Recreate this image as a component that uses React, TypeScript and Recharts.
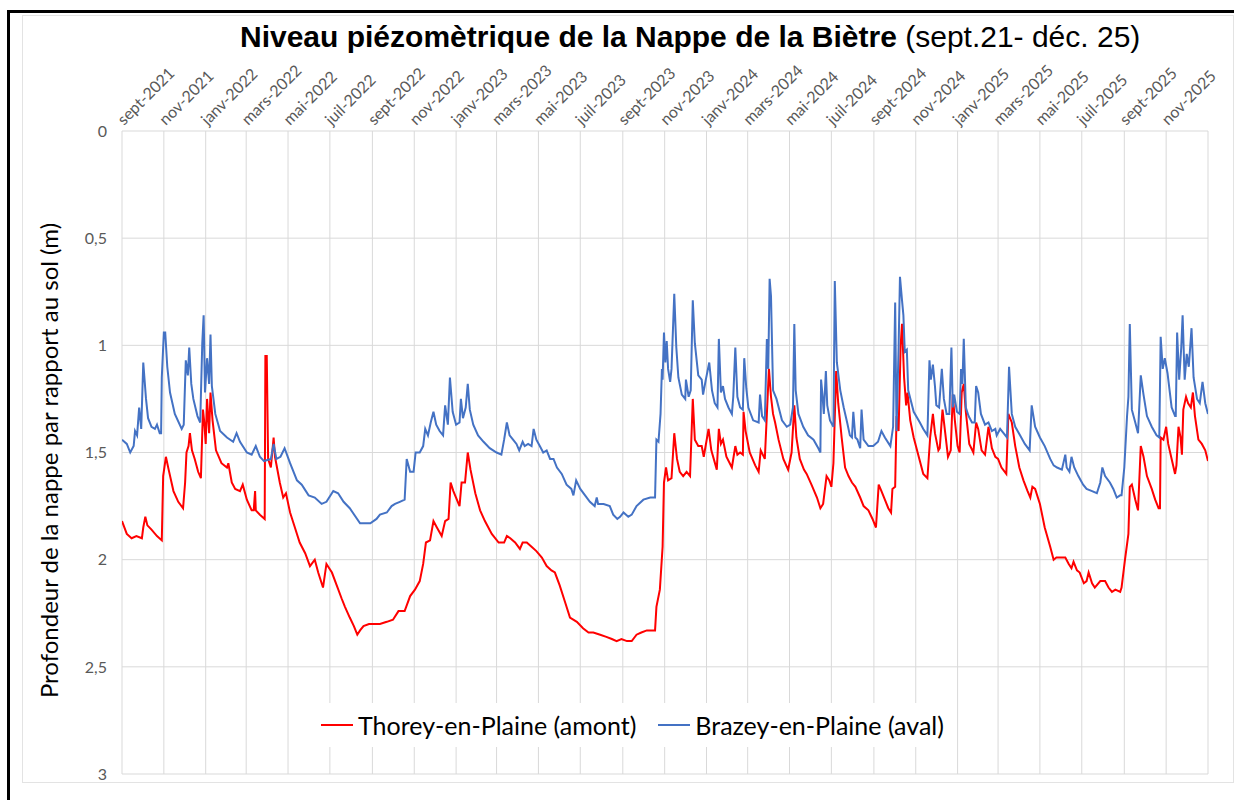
import { LineChart, Line, XAxis, YAxis, CartesianGrid, Legend } from "recharts";

const DAY = 86400000;
const START = Date.UTC(2021, 8, 1);
const END = Date.UTC(2026, 0, 1);

const monthLabels = [
  "sept-2021", "nov-2021", "janv-2022", "mars-2022", "mai-2022", "juil-2022",
  "sept-2022", "nov-2022", "janv-2023", "mars-2023", "mai-2023", "juil-2023",
  "sept-2023", "nov-2023", "janv-2024", "mars-2024", "mai-2024", "juil-2024",
  "sept-2024", "nov-2024", "janv-2025", "mars-2025", "mai-2025", "juil-2025",
  "sept-2025", "nov-2025",
];

const depthTicks = [0, 0.5, 1, 1.5, 2, 2.5, 3];

// [days since 1 sept. 2021, depth below ground (m)]
const thorey: [number, number][] = [
  [0, 1.82], [7, 1.88], [14, 1.9], [21, 1.89], [29, 1.9], [31, 1.85], [34, 1.8], [37, 1.84],
  [43, 1.86], [51, 1.89], [58, 1.91], [60, 1.61], [64, 1.52], [68, 1.58], [75, 1.68], [82, 1.73],
  [89, 1.76], [92, 1.64], [94, 1.5], [97, 1.47], [99, 1.41], [102, 1.49], [106, 1.53], [111, 1.59],
  [115, 1.62], [118, 1.3], [120, 1.36], [122, 1.46], [124, 1.25], [127, 1.41], [129, 1.22], [132, 1.35],
  [137, 1.49], [145, 1.55], [153, 1.57], [155, 1.55], [160, 1.64], [165, 1.67], [172, 1.68], [176, 1.65],
  [182, 1.72], [189, 1.77], [192, 1.77], [194, 1.68], [195, 1.77], [201, 1.79], [208, 1.81], [209, 1.05],
  [211, 1.05], [213, 1.53], [217, 1.57], [221, 1.43], [223, 1.52], [230, 1.64], [235, 1.71], [239, 1.69],
  [245, 1.78], [252, 1.85], [259, 1.92], [267, 1.97], [274, 2.03], [281, 2.0], [286, 2.06], [293, 2.13],
  [298, 2.02], [306, 2.06], [313, 2.12], [320, 2.18], [325, 2.22], [332, 2.27], [338, 2.31], [343, 2.35],
  [347, 2.33], [352, 2.31], [360, 2.3], [368, 2.3], [376, 2.3], [386, 2.29], [395, 2.28], [403, 2.24],
  [412, 2.24], [420, 2.17], [427, 2.14], [434, 2.1], [439, 2.02], [443, 1.92], [449, 1.91], [454, 1.82],
  [459, 1.85], [466, 1.89], [471, 1.82], [476, 1.81], [479, 1.64], [483, 1.68], [492, 1.75], [495, 1.64],
  [500, 1.64], [504, 1.5], [508, 1.58], [515, 1.69], [522, 1.77], [529, 1.82], [539, 1.88], [549, 1.92],
  [557, 1.92], [561, 1.89], [566, 1.9], [573, 1.92], [580, 1.95], [584, 1.92], [590, 1.92], [597, 1.94],
  [604, 1.96], [612, 1.99], [619, 2.03], [626, 2.05], [631, 2.06], [638, 2.12], [646, 2.2], [653, 2.27],
  [663, 2.29], [672, 2.32], [680, 2.34], [687, 2.34], [697, 2.35], [706, 2.36], [714, 2.37], [721, 2.38],
  [728, 2.37], [736, 2.38], [743, 2.38], [750, 2.35], [757, 2.34], [765, 2.33], [770, 2.33], [777, 2.33],
  [779, 2.22], [784, 2.14], [788, 1.94], [790, 1.64], [793, 1.57], [796, 1.63], [801, 1.62], [805, 1.41],
  [809, 1.53], [813, 1.59], [818, 1.61], [823, 1.59], [828, 1.61], [832, 1.25], [835, 1.44], [840, 1.47],
  [845, 1.47], [848, 1.52], [855, 1.39], [859, 1.49], [867, 1.58], [870, 1.39], [873, 1.46], [876, 1.44],
  [881, 1.52], [889, 1.57], [894, 1.47], [897, 1.51], [901, 1.5], [905, 1.51], [906, 1.31], [909, 1.4],
  [915, 1.5], [923, 1.56], [928, 1.59], [931, 1.49], [937, 1.53], [940, 1.32], [943, 1.11], [946, 1.24],
  [949, 1.32], [952, 1.36], [957, 1.44], [964, 1.53], [971, 1.58], [976, 1.5], [980, 1.28], [983, 1.43],
  [988, 1.53], [994, 1.58], [998, 1.6], [1005, 1.65], [1013, 1.71], [1018, 1.76], [1022, 1.74], [1027, 1.61],
  [1031, 1.63], [1034, 1.66], [1037, 1.55], [1041, 1.12], [1044, 1.27], [1049, 1.43], [1054, 1.57], [1059, 1.61],
  [1064, 1.64], [1069, 1.66], [1076, 1.71], [1081, 1.75], [1088, 1.77], [1094, 1.81], [1099, 1.85], [1103, 1.65],
  [1107, 1.68], [1112, 1.72], [1117, 1.76], [1121, 1.78], [1123, 1.67], [1127, 1.66], [1129, 1.33], [1132, 1.4],
  [1135, 1.0], [1137, 0.9], [1140, 1.15], [1143, 1.28], [1145, 1.22], [1149, 1.35], [1154, 1.43], [1163, 1.54],
  [1168, 1.6], [1174, 1.62], [1178, 1.43], [1182, 1.32], [1185, 1.41], [1190, 1.49], [1192, 1.48], [1196, 1.3],
  [1200, 1.41], [1204, 1.52], [1208, 1.49], [1211, 1.23], [1214, 1.35], [1218, 1.47], [1221, 1.5], [1224, 1.22],
  [1227, 1.18], [1230, 1.31], [1235, 1.46], [1241, 1.5], [1245, 1.36], [1248, 1.39], [1253, 1.49], [1258, 1.51],
  [1263, 1.38], [1268, 1.48], [1273, 1.52], [1277, 1.53], [1282, 1.57], [1289, 1.6], [1292, 1.32], [1297, 1.36],
  [1302, 1.47], [1308, 1.57], [1314, 1.63], [1320, 1.68], [1324, 1.71], [1327, 1.66], [1331, 1.67], [1338, 1.74],
  [1345, 1.85], [1353, 1.94], [1358, 2.0], [1362, 1.99], [1367, 1.99], [1375, 1.99], [1380, 2.02], [1384, 2.04],
  [1387, 2.01], [1392, 2.05], [1396, 2.06], [1402, 2.11], [1406, 2.1], [1409, 2.06], [1414, 2.11], [1418, 2.13],
  [1426, 2.1], [1433, 2.1], [1438, 2.13], [1443, 2.15], [1448, 2.14], [1455, 2.15], [1457, 2.13], [1462, 2.0],
  [1467, 1.88], [1469, 1.66], [1472, 1.65], [1477, 1.72], [1481, 1.77], [1485, 1.47], [1489, 1.52], [1494, 1.61],
  [1501, 1.67], [1506, 1.72], [1511, 1.76], [1513, 1.76], [1514, 1.43], [1518, 1.44], [1522, 1.38], [1525, 1.46],
  [1530, 1.53], [1535, 1.6], [1537, 1.56], [1540, 1.38], [1543, 1.43], [1545, 1.51], [1547, 1.3], [1551, 1.24],
  [1554, 1.27], [1558, 1.29], [1561, 1.22], [1564, 1.33], [1569, 1.44], [1574, 1.46], [1579, 1.49], [1583, 1.54],
];

const brazey: [number, number][] = [
  [0, 1.44], [7, 1.46], [12, 1.5], [17, 1.47], [19, 1.4], [22, 1.42], [25, 1.29], [28, 1.39],
  [31, 1.08], [35, 1.25], [38, 1.34], [43, 1.38], [48, 1.39], [51, 1.37], [55, 1.41], [57, 1.41],
  [58, 1.15], [61, 0.94], [63, 0.94], [66, 1.1], [70, 1.22], [77, 1.32], [87, 1.39], [90, 1.37],
  [93, 1.07], [96, 1.14], [98, 1.01], [101, 1.18], [104, 1.25], [110, 1.33], [114, 1.36], [117, 0.99],
  [119, 0.86], [121, 1.22], [124, 1.06], [127, 1.18], [129, 0.95], [131, 1.19], [136, 1.32], [143, 1.4],
  [153, 1.43], [162, 1.45], [167, 1.41], [172, 1.45], [182, 1.5], [189, 1.51], [195, 1.47], [201, 1.52],
  [207, 1.54], [217, 1.53], [221, 1.46], [225, 1.53], [231, 1.52], [237, 1.48], [245, 1.55], [255, 1.63],
  [262, 1.65], [272, 1.7], [281, 1.71], [291, 1.74], [298, 1.73], [308, 1.68], [315, 1.69], [323, 1.73],
  [332, 1.76], [347, 1.83], [362, 1.83], [371, 1.81], [376, 1.79], [386, 1.78], [393, 1.75], [398, 1.74],
  [405, 1.73], [412, 1.72], [415, 1.53], [420, 1.59], [425, 1.59], [428, 1.5], [434, 1.5], [439, 1.47],
  [442, 1.39], [446, 1.42], [450, 1.36], [454, 1.31], [458, 1.37], [463, 1.4], [468, 1.42], [471, 1.28],
  [475, 1.37], [478, 1.15], [482, 1.31], [487, 1.37], [492, 1.36], [494, 1.25], [497, 1.34], [501, 1.29],
  [504, 1.18], [507, 1.3], [512, 1.37], [519, 1.42], [527, 1.45], [536, 1.48], [546, 1.5], [553, 1.51],
  [557, 1.44], [561, 1.36], [565, 1.42], [570, 1.44], [575, 1.46], [579, 1.49], [584, 1.45], [587, 1.47],
  [592, 1.46], [597, 1.47], [600, 1.39], [604, 1.44], [609, 1.47], [614, 1.5], [619, 1.49], [624, 1.53],
  [629, 1.53], [634, 1.57], [641, 1.6], [648, 1.65], [655, 1.67], [658, 1.7], [662, 1.63], [668, 1.67],
  [675, 1.7], [682, 1.73], [689, 1.75], [692, 1.71], [694, 1.74], [702, 1.74], [711, 1.75], [716, 1.79],
  [722, 1.81], [726, 1.8], [731, 1.78], [738, 1.8], [743, 1.79], [750, 1.75], [760, 1.72], [770, 1.71],
  [777, 1.71], [779, 1.44], [782, 1.45], [785, 1.32], [787, 1.11], [788, 1.16], [790, 0.94], [792, 1.08],
  [794, 0.98], [796, 1.11], [799, 1.17], [801, 1.11], [805, 0.76], [808, 1.01], [811, 1.15], [816, 1.23],
  [821, 1.25], [822, 1.16], [826, 1.24], [829, 1.21], [832, 0.79], [835, 0.99], [840, 1.14], [845, 1.16],
  [847, 1.23], [851, 1.16], [856, 1.08], [860, 1.21], [864, 1.27], [868, 1.29], [870, 0.97], [873, 1.22],
  [876, 1.19], [879, 1.25], [884, 1.29], [889, 1.32], [891, 1.24], [894, 1.01], [897, 1.24], [901, 1.29],
  [905, 1.3], [907, 1.06], [910, 1.2], [913, 1.29], [920, 1.35], [928, 1.36], [930, 1.23], [933, 1.33],
  [937, 1.35], [940, 0.97], [942, 1.11], [944, 0.69], [946, 0.77], [949, 1.21], [954, 1.25], [962, 1.35],
  [969, 1.38], [974, 1.37], [978, 1.29], [980, 0.9], [982, 1.21], [986, 1.32], [993, 1.38], [1000, 1.42],
  [1008, 1.44], [1015, 1.48], [1018, 1.5], [1019, 1.16], [1021, 1.23], [1023, 1.32], [1026, 1.12], [1028, 1.28],
  [1032, 1.35], [1037, 1.38], [1039, 0.7], [1042, 1.08], [1047, 1.21], [1052, 1.29], [1057, 1.36], [1061, 1.42],
  [1064, 1.43], [1066, 1.31], [1069, 1.43], [1072, 1.44], [1076, 1.48], [1078, 1.3], [1081, 1.44], [1088, 1.47],
  [1095, 1.47], [1102, 1.45], [1107, 1.4], [1112, 1.43], [1120, 1.47], [1124, 1.38], [1127, 0.8], [1129, 1.4],
  [1132, 1.01], [1134, 0.68], [1137, 0.79], [1139, 0.86], [1141, 1.03], [1144, 1.02], [1146, 1.21], [1154, 1.31],
  [1163, 1.36], [1168, 1.39], [1174, 1.42], [1177, 1.07], [1179, 1.16], [1182, 1.09], [1185, 1.19], [1187, 1.28],
  [1191, 1.29], [1195, 1.11], [1198, 1.25], [1202, 1.32], [1206, 1.32], [1209, 1.01], [1211, 1.29], [1213, 1.23],
  [1217, 1.31], [1221, 1.32], [1223, 1.11], [1225, 1.18], [1227, 0.97], [1230, 1.29], [1234, 1.33], [1239, 1.36],
  [1243, 1.36], [1245, 1.19], [1248, 1.22], [1252, 1.32], [1258, 1.37], [1263, 1.36], [1268, 1.4], [1273, 1.39],
  [1275, 1.42], [1280, 1.39], [1285, 1.41], [1290, 1.43], [1293, 1.1], [1297, 1.32], [1302, 1.38], [1309, 1.42],
  [1316, 1.46], [1323, 1.49], [1326, 1.28], [1331, 1.38], [1338, 1.43], [1345, 1.47], [1353, 1.53], [1358, 1.56],
  [1363, 1.57], [1370, 1.58], [1375, 1.51], [1377, 1.57], [1381, 1.59], [1384, 1.52], [1388, 1.57], [1394, 1.61],
  [1401, 1.65], [1406, 1.67], [1414, 1.68], [1421, 1.69], [1426, 1.64], [1429, 1.57], [1433, 1.61], [1440, 1.64],
  [1445, 1.67], [1450, 1.71], [1455, 1.7], [1457, 1.7], [1461, 1.57], [1465, 1.33], [1467, 1.24], [1469, 0.9],
  [1472, 1.3], [1477, 1.36], [1481, 1.41], [1485, 1.14], [1489, 1.23], [1494, 1.33], [1501, 1.38], [1508, 1.42],
  [1512, 1.43], [1514, 0.96], [1517, 1.11], [1520, 1.06], [1524, 1.13], [1530, 1.29], [1535, 1.33], [1536, 1.33],
  [1538, 0.94], [1541, 1.16], [1544, 1.01], [1546, 0.86], [1549, 1.16], [1552, 1.04], [1555, 1.1], [1557, 1.01],
  [1559, 0.92], [1562, 1.15], [1567, 1.25], [1571, 1.27], [1575, 1.17], [1579, 1.27], [1583, 1.32],
];

const toRows = (pts: [number, number][]) =>
  pts.map(([d, v]) => ({ t: START + d * DAY, depth: v }));

const series = [
  { name: "Thorey-en-Plaine (amont)", color: "#ff0000", rows: toRows(thorey) },
  { name: "Brazey-en-Plaine (aval)", color: "#4472c4", rows: toRows(brazey) },
];

// one tick every two months, plus the closing edge of the axis
const xTicks = [...monthLabels.map((_, i) => Date.UTC(2021, 8 + 2 * i, 1)), END];
const labelByTime = new Map(xTicks.map((t, i) => [t, monthLabels[i] ?? ""]));

const FONT = "Lato, 'Open Sans', sans-serif";

const MonthTick = (props: any) => {
  const { x, y, payload } = props;
  const label = labelByTime.get(payload.value) ?? "";
  if (!label) return null;
  const px = x + 2;
  return (
    <text x={px} y={y} transform={`rotate(-45, ${px}, ${y})`} fill="#595959" fontSize={16} fontFamily={FONT}>
      {label}
    </text>
  );
};

const DepthTitle = (props: any) => {
  const vb = props.viewBox ?? { x: 0, y: 131, width: 122, height: 643 };
  const cx = vb.x + 48;
  const cy = vb.y + vb.height / 2 + 8;
  return (
    <text
      x={cx}
      y={cy}
      transform={`rotate(-90, ${cx}, ${cy})`}
      textAnchor="middle"
      dominantBaseline="central"
      fill="#000"
      fontSize={24}
      fontFamily={FONT}
    >
      Profondeur de la nappe par rapport au sol (m)
    </text>
  );
};

const LegendBox = () => (
  <div
    style={{
      display: "flex",
      alignItems: "center",
      height: 44,
      background: "#fff",
      padding: "0 8px",
      fontFamily: FONT,
      fontSize: 25,
      color: "#000",
      whiteSpace: "nowrap",
    }}
  >
    {series.map((s, i) => (
      <div key={s.name} style={{ display: "flex", alignItems: "center", marginLeft: i ? 22 : 0 }}>
        <span style={{ display: "inline-block", width: 32, height: 2, background: s.color, marginRight: 5 }} />
        <span>{s.name}</span>
      </div>
    ))}
  </div>
);

export default function App() {
  return (
    <div style={{ position: "absolute", left: 0, top: 0, width: 1234, height: 800, background: "#fff", overflow: "hidden" }}>
      <div style={{ position: "absolute", left: 7, top: 10, width: 1300, height: 900, borderLeft: "3px solid #000", borderTop: "3px solid #000" }} />
      <div style={{ position: "absolute", left: 22, top: 15, width: 1210, height: 766, border: "1px solid #e3e3e3" }} />

      <div style={{ position: "absolute", left: 0, top: 0 }}>
        <LineChart width={1234} height={800} margin={{ top: 101, right: 26, bottom: 26, left: 0 }}>
          <CartesianGrid stroke="#d9d9d9" />
          <XAxis
            dataKey="t"
            type="number"
            orientation="top"
            domain={[START, END]}
            allowDataOverflow
            ticks={xTicks}
            interval={0}
            height={30}
            axisLine={false}
            tickLine={false}
            tickSize={0}
            tickMargin={5}
            tick={<MonthTick />}
          />
          <YAxis
            type="number"
            reversed
            domain={[0, 3]}
            ticks={depthTicks}
            interval={0}
            width={122}
            axisLine={false}
            tickLine={false}
            tickSize={0}
            tickMargin={15}
            tick={{ fill: "#595959", fontSize: 16, fontFamily: FONT }}
            tickFormatter={(v: number) => String(v).replace(".", ",")}
            label={<DepthTitle />}
          />
          <Legend
            layout="horizontal"
            verticalAlign="middle"
            align="center"
            wrapperStyle={{ left: 313, top: 703, bottom: "auto", width: "auto" }}
            content={() => <LegendBox />}
          />
          {series.map((s) => (
            <Line
              key={s.name}
              data={s.rows}
              dataKey="depth"
              name={s.name}
              type="linear"
              stroke={s.color}
              strokeWidth={2}
              dot={false}
              activeDot={false}
              isAnimationActive={false}
            />
          ))}
        </LineChart>
      </div>

      <div
        style={{
          position: "absolute",
          left: 240,
          top: 22,
          fontFamily: "'Liberation Sans', Arial, sans-serif",
          fontSize: 30,
          lineHeight: "30px",
          color: "#000",
          whiteSpace: "nowrap",
        }}
      >
        <b>Niveau piézomètrique de la Nappe de la Biètre</b> (sept.21- déc. 25)
      </div>
    </div>
  );
}
